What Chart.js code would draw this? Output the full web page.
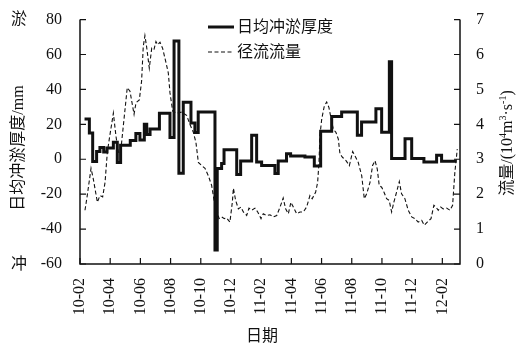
<!DOCTYPE html>
<html>
<head>
<meta charset="utf-8">
<script src="https://cdn.jsdelivr.net/npm/chart.js@4/dist/chart.umd.min.js"></script>
<style>
  html, body { margin: 0; padding: 0; background: #fff; }
  #wrap { width: 516px; height: 347px; }
</style>
</head>
<body>
<div id="wrap"><canvas id="c" width="516" height="347"></canvas></div>
<script>
// Month offsets counted from 2010-02 (0 = 2010-02, 12 = 2011-02, 24 = 2012-02)
const tickMonths = [0, 2, 4, 6, 8, 10, 12, 14, 16, 18, 20, 22, 24];
const tickLabels = ['10-02', '10-04', '10-06', '10-08', '10-10', '10-12',
                    '11-02', '11-04', '11-06', '11-08', '11-10', '11-12', '12-02'];

// Daily mean scour/deposition thickness (mm), held constant from each start month
const sedMonth = [0.30, 0.62, 0.84, 1.10, 1.32, 1.57, 1.79, 2.21, 2.47, 2.69, 3.33, 3.70, 3.97,
                  4.26, 4.42, 4.64, 5.26, 5.96, 6.23, 6.55, 6.84, 7.35, 7.61, 7.83, 8.94,
                  9.09, 9.38, 9.54, 10.38, 10.64, 11.37, 11.70, 12.03, 12.91, 13.13, 13.68,
                  13.95, 14.90, 15.52, 15.94, 16.67, 17.33, 18.37, 18.65, 19.60, 19.98,
                  20.49, 20.64, 21.53, 21.97, 22.78, 23.62, 23.95, 24.95];
const sedDepth = [23, 15, -1.3, 4.4, 6.7, 4.2, 6.5, 9.7, -1.8, 8, 10.8, 14.8, 11,
                  20, 14.2, 17.3, 26.3, 12.4, 67.8, -8, 32.6, 20.8, 15.3, 27, -52,
                  -5.3, -2.5, 5.4, -8.8, -1, 13.8, -1.5, -3.6, -8.2, -1, 3.2,
                  1.9, 1.3, -3.8, 16.1, 24.5, 27, 13.7, 21.3, 28.9, 15.4,
                  55.8, 0.4, 11.8, 0.4, -1.5, 2.3, -1.1, -1.1];

// Runoff discharge (10^4 m^3/s)
const flowMonth = [0.33, 0.48, 0.73, 0.88, 1.15, 1.32, 1.50, 1.66, 1.81, 1.94, 2.21, 2.38, 2.54,
                   2.69, 2.87, 3.13, 3.31, 3.58, 3.71, 3.93, 4.08, 4.19, 4.30, 4.41, 4.59,
                   4.75, 4.90, 5.03, 5.14, 5.30, 5.47, 5.70, 5.85, 5.96, 6.14, 6.40, 6.73,
                   7.06, 7.28, 7.51, 7.68, 7.84, 8.06, 8.28, 8.50, 8.72, 8.90, 9.05, 9.21,
                   9.38, 9.56, 9.71, 9.93, 10.09, 10.16, 10.31, 10.49, 10.66, 10.82, 11.04,
                   11.19, 11.37, 11.59, 11.77, 11.99, 12.14, 12.36, 12.58, 12.80, 13.03,
                   13.25, 13.46, 13.62, 13.80, 13.97, 14.13, 14.35, 14.57, 14.79, 15.01,
                   15.23, 15.38, 15.61, 15.74, 15.83, 15.89, 16.01, 16.18, 16.34, 16.49,
                   16.62, 16.78, 16.95, 17.11, 17.22, 17.40, 17.62, 17.84, 18.06, 18.21,
                   18.43, 18.66, 18.83, 18.99, 19.21, 19.38, 19.54, 19.69, 19.82, 19.98,
                   20.13, 20.31, 20.48, 20.64, 20.79, 20.97, 21.15, 21.30, 21.52, 21.74,
                   21.97, 22.19, 22.40, 22.63, 22.80, 23.00, 23.25, 23.44, 23.58, 23.73,
                   23.89, 24.06, 24.28, 24.50, 24.68, 24.83, 24.99];
const flowValue = [1.54, 1.96, 2.74, 2.44, 1.77, 1.96, 1.92, 2.34, 3.20, 3.58, 4.32, 3.67, 3.20,
                   3.20, 3.96, 5.05, 4.95, 4.29, 4.62, 4.70, 5.24, 6.23, 6.54, 6.23, 5.61,
                   6.18, 6.14, 6.37, 6.28, 6.35, 6.18, 5.76, 5.47, 4.90, 4.38, 4.32, 4.35,
                   4.26, 4.00, 3.77, 3.48, 2.91, 2.82, 2.74, 2.53, 2.25, 1.77, 1.58, 1.30,
                   1.35, 1.30, 1.32, 1.20, 1.77, 2.17, 1.82, 1.58, 1.63, 1.49, 1.39,
                   1.60, 1.54, 1.60, 1.49, 1.30, 1.44, 1.39, 1.41, 1.35, 1.39,
                   1.63, 1.89, 1.58, 1.44, 1.77, 1.63, 1.44, 1.49, 1.49, 1.63,
                   1.96, 1.87, 2.06, 2.34, 2.91, 3.67, 4.15, 4.52, 4.64, 4.48,
                   4.19, 3.86, 3.77, 3.58, 3.15, 3.05, 2.96, 2.82, 3.22, 3.10,
                   2.91, 2.53, 1.87, 2.01, 2.34, 2.82, 2.96, 2.72, 2.25, 2.20,
                   2.06, 1.87, 1.82, 1.49, 1.77, 2.06, 2.36, 2.01, 1.87, 1.54,
                   1.35, 1.30, 1.20, 1.25, 1.11, 1.20, 1.30, 1.68, 1.63, 1.54,
                   1.63, 1.58, 1.60, 1.54, 1.68, 2.63, 3.29];

const sedLabel = '日均冲淤厚度';
const flowLabel = '径流流量';

const FONT = '"Liberation Serif", "Times New Roman", "Noto Sans CJK SC", serif';
const INK = '#111';

// Axis frame (left, bottom, right) with inward tick marks, plus titles and legend
const frame = {
  id: 'frame',
  afterDraw(chart) {
    const ctx = chart.ctx;
    const a = chart.chartArea;
    const x = chart.scales.x, y = chart.scales.y, y1 = chart.scales.y1;
    ctx.save();
    ctx.strokeStyle = INK;
    ctx.lineWidth = 1.5;
    ctx.beginPath();
    ctx.moveTo(a.left, a.top); ctx.lineTo(a.left, a.bottom); ctx.lineTo(a.right, a.bottom); ctx.lineTo(a.right, a.top);
    ctx.stroke();
    const T = 6;
    ctx.lineWidth = 1.2;
    ctx.beginPath();
    y.ticks.forEach(t => { const p = y.getPixelForValue(t.value); ctx.moveTo(a.left, p); ctx.lineTo(a.left + T, p); });
    y1.ticks.forEach(t => { const p = y1.getPixelForValue(t.value); ctx.moveTo(a.right, p); ctx.lineTo(a.right - T, p); });
    x.ticks.forEach(t => { const p = x.getPixelForValue(t.value); ctx.moveTo(p, a.bottom); ctx.lineTo(p, a.bottom - T); });
    ctx.stroke();

    ctx.fillStyle = INK;
    ctx.font = '16px ' + FONT;
    ctx.textAlign = 'center';
    ctx.textBaseline = 'middle';
    ctx.fillText('淤', 19, 20);
    ctx.fillText('冲', 19, 265);
    ctx.fillText('日期', 262, 337);

    ctx.save();
    ctx.translate(19, 148);
    ctx.rotate(-Math.PI / 2);
    ctx.fillText('日均冲淤厚度/mm', 0, 0);
    ctx.restore();

    // right axis title with superscripts
    ctx.save();
    ctx.translate(508, 143);
    ctx.rotate(-Math.PI / 2);
    const parts = [['流量/(10', 16, 0], ['4', 10, -5], ['m', 16, 0], ['3', 10, -5], ['·s', 16, 0], ['-1', 10, -5], [')', 16, 0]];
    let total = 0;
    parts.forEach(p => { ctx.font = p[1] + 'px ' + FONT; total += ctx.measureText(p[0]).width; });
    let cx = -total / 2;
    ctx.textAlign = 'left';
    parts.forEach(p => {
      ctx.font = p[1] + 'px ' + FONT;
      ctx.fillText(p[0], cx, p[2]);
      cx += ctx.measureText(p[0]).width;
    });
    ctx.restore();

    // legend
    const ds = chart.data.datasets;
    const rows = [27, 52];
    ds.forEach((d, i) => {
      ctx.save();
      ctx.strokeStyle = d.borderColor;
      ctx.lineWidth = d.borderWidth;
      ctx.setLineDash(d.borderDash || []);
      ctx.beginPath();
      ctx.moveTo(208, rows[i]); ctx.lineTo(234, rows[i]);
      ctx.stroke();
      ctx.restore();
      ctx.font = '16px ' + FONT;
      ctx.textAlign = 'left';
      ctx.fillText(d.label, 237, rows[i] + 1);
    });
    ctx.restore();
  }
};

new Chart(document.getElementById('c'), {
  type: 'line',
  data: {
    datasets: [
      {
        label: sedLabel,
        data: sedMonth.map((m, i) => ({ x: m, y: sedDepth[i] })),
        yAxisID: 'y',
        stepped: 'before',
        borderColor: INK,
        borderWidth: 3,
        borderJoinStyle: 'miter',
        pointRadius: 0,
        fill: false
      },
      {
        label: flowLabel,
        data: flowMonth.map((m, i) => ({ x: m, y: flowValue[i] })),
        yAxisID: 'y1',
        borderColor: INK,
        borderWidth: 1.1,
        borderDash: [4, 2.5],
        pointRadius: 0,
        tension: 0,
        fill: false
      }
    ]
  },
  options: {
    responsive: false,
    animation: false,
    devicePixelRatio: 1,
    layout: { padding: { top: 18, left: 0, right: 0, bottom: 0 } },
    plugins: { legend: { display: false }, tooltip: { enabled: false } },
    scales: {
      x: {
        type: 'linear',
        min: 0,
        max: 25.17,
        grid: { display: false },
        border: { display: false },
        afterBuildTicks: s => { s.ticks = tickMonths.map(v => ({ value: v })); },
        afterFit: s => { s.height = 83; },
        ticks: {
          autoSkip: false,
          minRotation: 90,
          maxRotation: 90,
          padding: 6,
          color: INK,
          font: { family: FONT, size: 16 },
          callback: (v, i) => tickLabels[i]
        }
      },
      y: {
        position: 'left',
        min: -60,
        max: 80,
        grid: { display: false },
        border: { display: false },
        afterFit: s => { s.width = 80; },
        ticks: { stepSize: 20, padding: 10, color: INK, font: { family: FONT, size: 16 } }
      },
      y1: {
        position: 'right',
        min: 0,
        max: 7,
        grid: { display: false },
        border: { display: false },
        afterFit: s => { s.width = 56; },
        ticks: { stepSize: 1, padding: 8, color: INK, font: { family: FONT, size: 16 } }
      }
    }
  },
  plugins: [frame]
});
</script>
</body>
</html>
